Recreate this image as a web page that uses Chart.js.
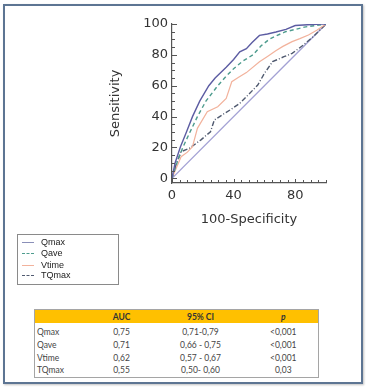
<!DOCTYPE html>
<html>
<head>
<meta charset="utf-8">
<script src="https://cdn.jsdelivr.net/npm/chart.js@4/dist/chart.umd.min.js"></script>
<style>
  body { margin: 0; background: #fff; }
  #stage { position: relative; width: 369px; height: 390px; overflow: hidden; }
  #frame { position: absolute; left: 3px; top: 4px; width: 356px; height: 376px;
           border: 2px solid #5d7593; box-shadow: 1px 1px 2px rgba(0,0,0,0.25); }
  #chartBox { position: absolute; left: 0; top: 0; width: 369px; height: 235px; }
  #legend { position: absolute; left: 17px; top: 234px; width: 100px; height: 49px;
            border: 1px solid #8a8a8a; font-family: "Liberation Sans", Arial, sans-serif;
            font-size: 9px; color: #222; }
  .lg { position: absolute; left: 0; height: 11px; line-height: 11px; }
  .lg span.ln { position: absolute; left: 4px; top: 5px; width: 12px; border-top-width: 1px; }
  .lg span.tx { position: absolute; left: 23px; top: 0; white-space: nowrap; }
  #tbl { position: absolute; left: 34px; top: 309px; border-collapse: collapse;
         table-layout: fixed; font-family: Lato, "Liberation Sans", sans-serif;
         font-size: 8.5px; color: #444; border: 1px solid #a5a5a5; }
  #tbl th { background: #ffc000; font-weight: bold; height: 13px; padding: 0; color: #333; }
  #tbl td { height: 12.7px; padding: 0; }
  #tbl td:first-child { text-align: left; padding-left: 2px; }
  #tbl td, #tbl th { text-align: center; }
</style>
</head>
<body>
<div id="stage">
  <div id="frame"></div>
  <div id="chartBox"><canvas id="roc"></canvas></div>
  <div id="legend"></div>
  <table id="tbl"></table>
</div>
<script>
// ROC curves, x = 100-Specificity, y = Sensitivity
var qmaxX = [0, 2, 5.5, 9, 13.3, 18, 23.9, 28, 35.2, 40, 44, 48.3, 52, 56.8, 62, 67.5, 74, 80, 88, 97, 100];
var qmaxY = [0, 10, 20.5, 29, 40, 50, 60, 65, 72, 77, 82, 84, 88, 92.6, 93.5, 94.8, 96.5, 99, 99.5, 100, 100];

var qaveX = [0, 3.8, 7, 11.2, 16.5, 22, 29.7, 35, 40, 46, 52.5, 58, 63, 68, 73.7, 80, 86, 93, 100];
var qaveY = [0, 11.9, 20, 29, 40, 50, 60, 66, 71, 76, 80, 86, 90, 92.5, 95, 96.5, 98, 99, 100];

var vtimeX = [0, 5.9, 10, 13.3, 16.5, 22.9, 29.7, 35.2, 38.8, 43, 48.3, 56.8, 62, 67.4, 72, 78, 83, 88.6, 94, 100];
var vtimeY = [0, 14, 17, 20.5, 32.4, 43.2, 46.4, 51.8, 62.6, 65.4, 68.5, 75.6, 79, 82.7, 85.5, 88.6, 90.5, 92.9, 96, 100];

var tqmaxX = [0, 3, 5.9, 11.2, 18.6, 25, 27.5, 32.4, 37.7, 44, 49.4, 55.7, 60, 65.3, 72.7, 78, 85.4, 91.7, 100];
var tqmaxY = [0, 10, 17.3, 19.4, 24.8, 30.2, 37.8, 41, 44.3, 48.6, 54, 60.5, 68, 75.6, 78.8, 81, 86.4, 91.8, 100];

var diagX = [0, 100];
var diagY = [0, 100];

var seriesNames = ['Qmax', 'Qave', 'Vtime', 'TQmax'];
var seriesColors = ['#5c5ca2', '#4e9c8e', '#f2b29c', '#505a70'];
var seriesDash = [[], [4, 3], [], [5, 2, 1, 2]];

// table
var tableHead = ['', 'AUC', '95% CI', 'p'];
var aucValues = ['0,75', '0,71', '0,62', '0,55'];
var ciValues = ['0,71-0,79', '0,66 - 0,75', '0,57 - 0,67', '0,50- 0,60'];
var pValues = ['<0,001', '<0,001', '<0,001', '0,03'];

var xTickStep = 5, xLabelStep = 40;
var yTickStep = 5, yLabelStep = 20;

function pts(xs, ys) {
  return xs.map(function (x, i) { return { x: x, y: ys[i] }; });
}

var allX = [qmaxX, qaveX, vtimeX, tqmaxX];
var allY = [qmaxY, qaveY, vtimeY, tqmaxY];

var datasets = seriesNames.map(function (name, i) {
  return {
    label: name,
    data: pts(allX[i], allY[i]),
    borderColor: seriesColors[i],
    borderDash: seriesDash[i],
    borderWidth: i === 2 ? 1.2 : 1.4,
    pointRadius: 0,
    tension: 0,
    fill: false
  };
});
datasets.push({
  label: 'ref',
  data: pts(diagX, diagY),
  borderColor: '#a3a1d4',
  borderWidth: 1.4,
  pointRadius: 0,
  fill: false
});

function stepTicks(step) {
  var t = [];
  for (var v = 0; v <= 100; v += step) t.push({ value: v });
  return t;
}

// inward minor/major tick marks
var innerTicks = {
  id: 'innerTicks',
  afterDraw: function (chart) {
    var c = chart.ctx, xs = chart.scales.x, ys = chart.scales.y;
    c.save();
    c.strokeStyle = '#555';
    c.lineWidth = 1;
    for (var v = 0; v <= 100; v += xTickStep) {
      var px = Math.round(xs.getPixelForValue(v)) + 0.5;
      var len = v % xLabelStep === 0 ? 4 : 3;
      c.beginPath(); c.moveTo(px, ys.bottom); c.lineTo(px, ys.bottom - len); c.stroke();
    }
    for (var w = 0; w <= 100; w += yTickStep) {
      var py = Math.round(ys.getPixelForValue(w)) + 0.5;
      var l2 = w % yLabelStep === 0 ? 5 : 3;
      c.beginPath(); c.moveTo(xs.left, py); c.lineTo(xs.left + l2, py); c.stroke();
    }
    c.restore();
  }
};

var axisFont = { family: 'DejaVu Sans', size: 13 };

new Chart(document.getElementById('roc'), {
  type: 'line',
  data: { datasets: datasets },
  plugins: [innerTicks],
  options: {
    responsive: true,
    maintainAspectRatio: false,
    animation: false,
    layout: { padding: { left: 108, right: 43, top: 24, bottom: 8 } },
    plugins: { legend: { display: false }, tooltip: { enabled: false } },
    scales: {
      x: {
        type: 'linear', min: 0, max: 100,
        afterBuildTicks: function (s) { s.ticks = stepTicks(xTickStep); },
        afterFit: function (s) { s.height = 44; },
        ticks: {
          autoSkip: false, maxRotation: 0, padding: 5, color: '#333', font: axisFont,
          callback: function (v) { return v % xLabelStep === 0 ? v : ''; }
        },
        grid: { display: true, drawOnChartArea: false, drawTicks: false },
        border: { display: true, color: '#555', width: 1.2 },
        title: { display: true, text: '100-Specificity', color: '#333', font: { family: 'DejaVu Sans', size: 13 }, padding: 0 }
      },
      y: {
        type: 'linear', min: -3, max: 100,
        afterBuildTicks: function (s) { s.ticks = stepTicks(yTickStep); },
        afterFit: function (s) { s.width = 64; },
        ticks: {
          autoSkip: false, padding: 4, color: '#333', font: axisFont,
          callback: function (v) { return v % yLabelStep === 0 ? v : ''; }
        },
        grid: { display: true, drawOnChartArea: false, drawTicks: false },
        border: { display: true, color: '#555', width: 1.2 },
        title: { display: true, text: 'Sensitivity', color: '#333', font: { family: 'DejaVu Sans', size: 13 }, padding: 0 }
      }
    }
  }
});

// legend box
var legend = document.getElementById('legend');
var legendTops = [2, 13, 24.5, 35];
seriesNames.forEach(function (name, i) {
  var row = document.createElement('div');
  row.className = 'lg';
  row.style.top = legendTops[i] + 'px';
  var ln = document.createElement('span');
  ln.className = 'ln';
  ln.style.borderTopStyle = seriesDash[i].length ? 'dashed' : 'solid';
  ln.style.borderTopColor = i === 0 ? '#8a8fb8' : seriesColors[i];
  var tx = document.createElement('span');
  tx.className = 'tx';
  tx.textContent = name;
  row.appendChild(ln); row.appendChild(tx);
  legend.appendChild(row);
});

// table
var tbl = document.getElementById('tbl');
var colW = [56, 62, 96, 70];
var cg = document.createElement('colgroup');
colW.forEach(function (w) { var c = document.createElement('col'); c.style.width = w + 'px'; cg.appendChild(c); });
tbl.appendChild(cg);
var hr = document.createElement('tr');
tableHead.forEach(function (h, i) {
  var th = document.createElement('th');
  th.textContent = h;
  if (i === 3) th.style.fontStyle = 'italic';
  hr.appendChild(th);
});
tbl.appendChild(hr);
var sp = document.createElement('tr');
sp.innerHTML = '<td colspan="4" style="height:3px"></td>';
tbl.appendChild(sp);
seriesNames.forEach(function (name, i) {
  var tr = document.createElement('tr');
  [name, aucValues[i], ciValues[i], pValues[i]].forEach(function (v) {
    var td = document.createElement('td');
    td.textContent = v;
    tr.appendChild(td);
  });
  tbl.appendChild(tr);
});
</script>
</body>
</html>
